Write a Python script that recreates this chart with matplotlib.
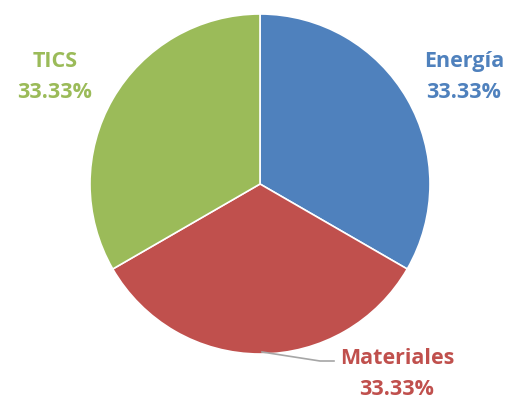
import matplotlib
matplotlib.use("Agg")
from matplotlib import pyplot as plt

labels = ["Energía", "Materiales", "TICS"]
values = [1, 1, 1]
colors = ["#4F81BD", "#C0504D", "#9BBB59"]

W, H = 511, 405
fig = plt.figure(figsize=(W / 100, H / 100), dpi=100)
ax = fig.add_axes([0, 0, 1, 1])
ax.set_xlim(0, W)
ax.set_ylim(0, H)
ax.axis("off")

wedges, _ = ax.pie(values, colors=colors, startangle=90, counterclock=False,
                   center=(260, H - 184), radius=170,
                   wedgeprops=dict(edgecolor="white", linewidth=1.2))
ax.set_xlim(0, W)
ax.set_ylim(0, H)
ax.set_aspect("auto")

total = sum(values)
pcts = ["%.2f%%" % (100 * v / total) for v in values]
label_pos = [(464, H - 77), (397, H - 374), (55, H - 77)]
for name, pct, col, (x, y) in zip(labels, pcts, colors, label_pos):
    ax.text(x, y, name + "\n" + pct, color=col, ha="center", va="center",
            fontsize=15.5, fontweight="bold", family=["Open Sans", "DejaVu Sans"],
            linespacing=1.62)

# leader line for Materiales
ax.plot([262, 320, 334], [H - 352, H - 361, H - 361], color="#A6A6A6", lw=1.2)

fig.savefig("out.png", dpi=100)
